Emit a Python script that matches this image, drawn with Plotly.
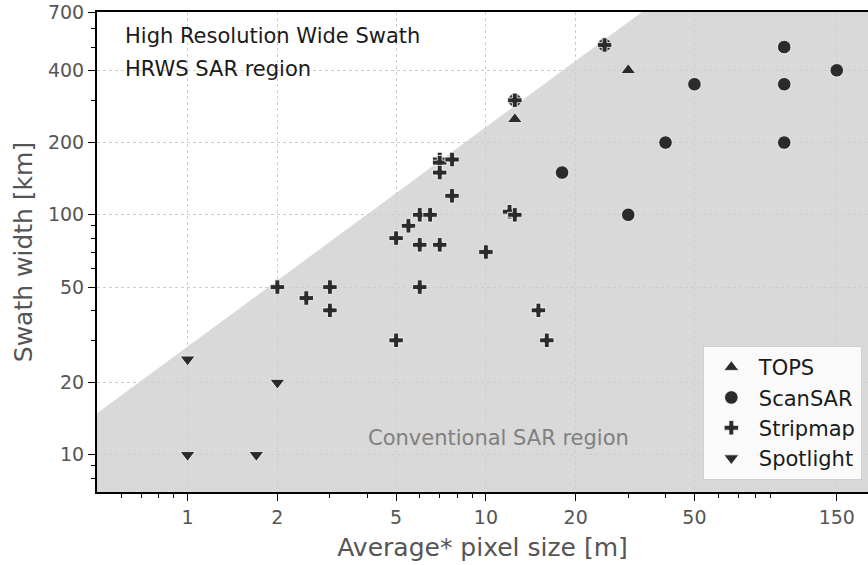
import math
import plotly.graph_objects as go

# ---------------- data ----------------
tops_x = [12.5, 30]
tops_y = [250, 400]

scansar_x = [12.5, 25, 18, 30, 40, 50, 100, 100, 100, 150]
scansar_y = [300, 510, 150, 100, 200, 350, 500, 350, 200, 400]

stripmap_x = [2, 2.5, 3, 3, 5, 5, 5.5, 6, 6, 6, 6.5, 7, 7, 7, 7, 7.7, 7.7,
              10, 12, 12.5, 12.5, 15, 16, 25]
stripmap_y = [50, 45, 50, 40, 80, 30, 90, 100, 75, 50, 100, 170, 165, 150, 75, 170, 120,
              70, 103, 100, 300, 40, 30, 510]

spotlight_x = [1, 1, 1.7, 2]
spotlight_y = [25, 10, 10, 20]

# region boundary (HRWS / conventional)
boundary_x = [0.45, 45]
boundary_y = [13.6, 921]

x_ticks = [1, 2, 5, 10, 20, 50, 150]
y_ticks = [10, 20, 50, 100, 200, 400, 700]
x_minor = [0.6, 0.7, 0.8, 0.9, 3, 4, 6, 7, 8, 9, 30, 40, 60, 70, 80, 90]
y_minor = [8, 9, 30, 40, 60, 70, 80, 90, 300, 500, 600]

x_range = [0.497, 190.9]
y_range = [7, 700]

FONT = "DejaVu Sans"
MC = "#2b2b2b"

fig = go.Figure()

def add(name, xs, ys, symbol, size):
    fig.add_trace(go.Scatter(
        x=xs, y=ys, mode="markers", name=name,
        marker=dict(symbol=symbol, size=size, color=MC,
                    line=dict(color="white", width=0.8)),
    ))

add("TOPS", tops_x, tops_y, "triangle-up", 13)
add("ScanSAR", scansar_x, scansar_y, "circle", 13.5)
add("Stripmap", stripmap_x, stripmap_y, "cross", 12)
add("Spotlight", spotlight_x, spotlight_y, "triangle-down", 13)

# gray conventional region as shape (data coordinates)
xlo, xhi = 0.3, 400
ylo = 3
path = (f"M {boundary_x[0]},{ylo} L {boundary_x[0]},{boundary_y[0]} "
        f"L {boundary_x[1]},{boundary_y[1]} "
        f"L {xhi},{boundary_y[1]} L {xhi},{ylo} Z")
fig.add_shape(type="path", path=path, xref="x", yref="y",
              fillcolor="#d9d9d9", line=dict(width=0), layer="below")

fig.add_annotation(text="High Resolution Wide Swath", xref="paper", yref="paper",
                   x=0.0337, y=0.95, xanchor="left", yanchor="middle", showarrow=False,
                   font=dict(family=FONT, size=21, color="#1a1a1a"))
fig.add_annotation(text="HRWS SAR region", xref="paper", yref="paper",
                   x=0.0337, y=0.881, xanchor="left", yanchor="middle", showarrow=False,
                   font=dict(family=FONT, size=21, color="#1a1a1a"))
fig.add_annotation(text="Conventional SAR region", xref="paper", yref="paper",
                   x=0.521, y=0.1125, xanchor="center", yanchor="middle", showarrow=False,
                   font=dict(family=FONT, size=21, color="#808080"))

axis_common = dict(
    type="log", showline=True, linecolor="black", linewidth=2,
    ticks="outside", ticklen=7, tickwidth=1.2, tickcolor="black",
    showgrid=True, gridcolor="#cdcdcd", griddash="dot", gridwidth=1,
    tickfont=dict(family=FONT, size=19, color="#555555"),
    zeroline=False,
)

fig.update_xaxes(
    **axis_common,
    range=[math.log10(x_range[0]), math.log10(x_range[1])],
    tickmode="array", tickvals=x_ticks, ticktext=[str(v) for v in x_ticks],
    mirror=True,
    minor=dict(tickmode="array", tickvals=x_minor, ticks="outside", ticklen=4,
               tickcolor="black", tickwidth=1, showgrid=False),
    title=dict(text="Average* pixel size [m]", standoff=12,
               font=dict(family=FONT, size=25, color="#555555")),
)
fig.update_yaxes(
    **axis_common,
    range=[math.log10(y_range[0]), math.log10(y_range[1])],
    tickmode="array", tickvals=y_ticks, ticktext=[str(v) for v in y_ticks],
    mirror=False,
    minor=dict(tickmode="array", tickvals=y_minor, ticks="outside", ticklen=4,
               tickcolor="black", tickwidth=1, showgrid=False),
    title=dict(text="Swath width [km]", standoff=8,
               font=dict(family=FONT, size=25, color="#555555")),
)

fig.update_layout(
    width=868, height=565,
    margin=dict(l=97, r=0, t=12, b=73),
    paper_bgcolor="white", plot_bgcolor="white",
    font=dict(family=FONT),
    showlegend=True,
    legend=dict(x=0.992, y=0.025, xanchor="right", yanchor="bottom",
                bgcolor="rgba(255,255,255,0.85)", bordercolor="#d0d0d0", borderwidth=1,
                font=dict(family=FONT, size=21, color="#1a1a1a"),
                itemsizing="trace", itemwidth=45, tracegroupgap=0),
)

fig.write_html("out.html")
